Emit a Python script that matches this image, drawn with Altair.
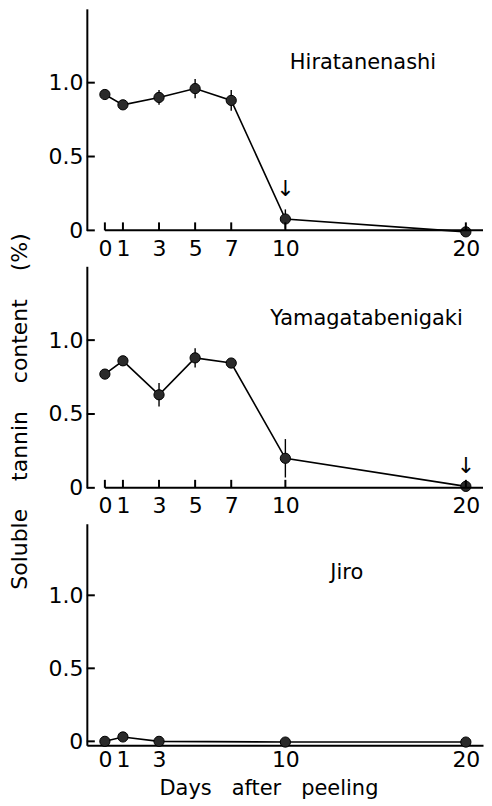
import altair as alt
import pandas as pd

# ---------------- data ----------------
cultivars = ["Hiratanenashi", "Yamagatabenigaki", "Jiro"]

days_main = [0, 1, 3, 5, 7, 10, 20]
hira_vals = [0.92, 0.85, 0.90, 0.96, 0.88, 0.077, -0.01]
hira_err = [0.0, 0.0, 0.05, 0.065, 0.07, 0.065, 0.0]

yama_vals = [0.77, 0.86, 0.63, 0.88, 0.845, 0.20, 0.01]
yama_err = [0.0, 0.0, 0.08, 0.065, 0.0, 0.13, 0.0]

days_jiro = [0, 1, 3, 10, 20]
jiro_vals = [0.0, 0.03, 0.0, -0.005, -0.005]
jiro_err = [0.0, 0.0, 0.0, 0.0, 0.0]

x_ticks_main = [0, 1, 3, 5, 7, 10, 20]
x_ticks_jiro = [0, 1, 3, 10, 20]
y_ticks = [0, 0.5, 1.0]

arrow_days = {"Hiratanenashi": 10, "Yamagatabenigaki": 20}

# label / arrow placement (in data units)
label_pos = {"Hiratanenashi": (14.3, 1.095), "Yamagatabenigaki": (14.5, 1.10), "Jiro": (13.4, 1.11)}
arrow_y = {"Hiratanenashi": 0.28, "Yamagatabenigaki": 0.15}

NB = "\u00a0"
Y_TITLE = f"Soluble{NB}{NB}{NB} tannin{NB}{NB}{NB} content{NB}{NB}{NB} (%)"
X_TITLE = f"Days{NB}{NB} after{NB}{NB} peeling"

FONT = "DejaVu Sans"
W = 397
X_DOMAIN = [-1.0, 20.95]


def panel(name, days, vals, errs, xticks, height, ydomain, show_xticks,
          x_domain_line, x_label_pad, y_title=None, x_title=None):
    df = pd.DataFrame({
        "day": days,
        "val": vals,
        "lo": [v - e for v, e in zip(vals, errs)],
        "hi": [v + e for v, e in zip(vals, errs)],
    })
    xs = alt.Scale(domain=X_DOMAIN, nice=False, zero=False)
    ys = alt.Scale(domain=ydomain, nice=False, zero=False)

    xax_kwargs = dict(
        values=xticks, ticks=False, domain=x_domain_line, domainColor="black",
        domainWidth=2, grid=False, labelFontSize=22, labelFont=FONT,
        labelColor="black", labelPadding=x_label_pad, labelFlush=False,
        labelOverlap=False, format="d",
    )
    if x_title is not None:
        xax_kwargs.update(dict(title=x_title, titleFontSize=21, titleFont=FONT,
                               titleFontWeight="normal", titleColor="black",
                               titleX=182, titleY=32, titleBaseline="top",
                               titleAlign="center"))
    else:
        xax_kwargs["title"] = None
    x_axis = alt.Axis(**xax_kwargs)

    yax_kwargs = dict(
        values=y_ticks, ticks=False, domain=True, domainColor="black",
        domainWidth=2, grid=False, labelFontSize=22, labelFont=FONT,
        labelColor="black", labelPadding=4, labelFlush=False,
        labelExpr="datum.value == 0 ? '0' : format(datum.value, '.1f')",
    )
    if y_title is not None:
        yax_kwargs.update(dict(title=y_title, titleFontSize=22, titleFont=FONT,
                               titleFontWeight="normal", titleColor="black",
                               titleX=-55, titleY=145, titleAngle=270,
                               titleBaseline="bottom", titleAlign="center"))
    else:
        yax_kwargs["title"] = None
    y_axis = alt.Axis(**yax_kwargs)

    X = alt.X("day:Q", scale=xs, axis=x_axis)
    Y = alt.Y("val:Q", scale=ys, axis=y_axis)

    layers = []
    line = alt.Chart(df).mark_line(color="black", strokeWidth=1.6).encode(x=X, y=Y)
    layers.append(line)

    err = alt.Chart(df).mark_rule(color="black", strokeWidth=1.4).encode(
        x=X, y=alt.Y("lo:Q", scale=ys, axis=y_axis), y2="hi:Q")
    layers.append(err)

    pts = alt.Chart(df).mark_point(filled=True, size=105, color="#2a2a2a",
                                   stroke="black", strokeWidth=1, opacity=1).encode(x=X, y=Y)
    layers.append(pts)

    # inward y ticks
    ytk = pd.DataFrame({"val": y_ticks})
    layers.append(alt.Chart(ytk).mark_rule(color="black", strokeWidth=2).encode(
        y=Y, x=alt.value(0), x2=alt.value(8)))

    if show_xticks:
        xtk = pd.DataFrame({"day": xticks})
        layers.append(alt.Chart(xtk).mark_rule(color="black", strokeWidth=2).encode(
            x=X, y=alt.value(height), y2=alt.value(height - 8)))
        # baseline starting from the first day
        base = pd.DataFrame({"day": [xticks[0]]})
        layers.append(alt.Chart(base).mark_rule(color="black", strokeWidth=2).encode(
            x=X, x2=alt.value(W), y=alt.value(height)))

    lx, ly = label_pos[name]
    lab = pd.DataFrame({"day": [lx], "val": [ly], "txt": [name]})
    layers.append(alt.Chart(lab).mark_text(font=FONT, fontSize=21, color="black",
                                           align="center", baseline="alphabetic").encode(
        x=X, y=Y, text="txt:N"))

    if name in arrow_days:
        ar = pd.DataFrame({"day": [arrow_days[name]], "val": [arrow_y[name]]})
        layers.append(alt.Chart(ar).mark_text(text="↓", font=FONT, fontSize=22,
                                              color="black", align="center",
                                              baseline="middle").encode(x=X, y=Y))

    return alt.layer(*layers).properties(width=W, height=height)


p1 = panel("Hiratanenashi", days_main, hira_vals, hira_err, x_ticks_main, 222,
           [0, 1.5], True, False, 8)
p2 = panel("Yamagatabenigaki", days_main, yama_vals, yama_err, x_ticks_main, 222,
           [0, 1.5], True, False, 8, y_title=Y_TITLE)
p3 = panel("Jiro", days_jiro, jiro_vals, jiro_err, x_ticks_jiro, 222,
           [-0.027, 1.49], False, True, 4, x_title=X_TITLE)

chart = alt.vconcat(p1, p2, p3, spacing=36, bounds="flush").properties(
    padding={"left": 0, "top": 0, "right": 0, "bottom": 0}
).configure(font=FONT, view=alt.ViewConfig(stroke=None))

chart.save("out.html", embed_options={"renderer": "svg", "actions": False})
